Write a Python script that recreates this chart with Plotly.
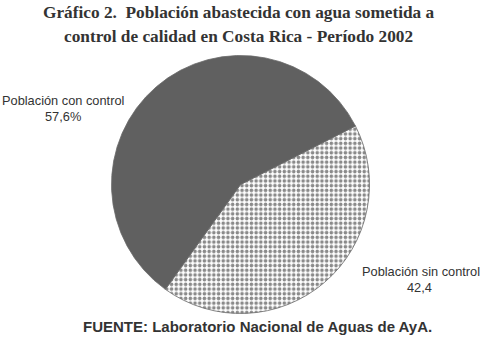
import plotly.graph_objects as go

categories = ["Población sin control", "Población con control"]
values = [42.4, 57.6]
value_labels = ["42,4", "57,6%"]

W, H = 483, 343
cx, cy, r = 240.5, 184.5, 129

fig = go.Figure(go.Pie(
    labels=categories,
    values=values,
    sort=False,
    direction="clockwise",
    rotation=63,
    textinfo="none",
    hoverinfo="label+value",
    marker=dict(
        colors=["white", "#606060"],
        line=dict(color="#6a6a6a", width=0.8),
        pattern=dict(shape=[".", ""], fgcolor="#8a8a8a", bgcolor="white", size=4.7, solidity=0.45),
    ),
    domain=dict(x=[(cx - r) / W, (cx + r) / W], y=[(H - cy - r) / H, (H - cy + r) / H]),
    showlegend=False,
))

ann = []
ann.append(dict(x=63.5, y=H - 101, text=categories[1]))
ann.append(dict(x=63.5, y=H - 117, text=value_labels[1]))
ann.append(dict(x=421, y=H - 271, text=categories[0]))
ann.append(dict(x=419, y=H - 287, text=value_labels[0]))
for a in ann:
    a.update(xref="paper", yref="paper", showarrow=False, xanchor="center", yanchor="middle")
    a["x"] = a["x"] / W
    a["y"] = a["y"] / H
    a["font"] = dict(family="Liberation Sans, Arial, sans-serif", size=12.8, color="#333333")

ann.append(dict(x=238.5 / W, y=(H - 13) / H, xref="paper", yref="paper", showarrow=False,
                xanchor="center", yanchor="middle",
                text="<b>Gráfico 2.  Población abastecida con agua sometida a</b>",
                font=dict(family="Liberation Serif, Times New Roman, serif", size=17.3, color="#333333")))
ann.append(dict(x=238.5 / W, y=(H - 36) / H, xref="paper", yref="paper", showarrow=False,
                xanchor="center", yanchor="middle",
                text="<b>control de calidad en Costa Rica - Período 2002</b>",
                font=dict(family="Liberation Serif, Times New Roman, serif", size=17.3, color="#333333")))
ann.append(dict(x=257.5 / W, y=(H - 326) / H, xref="paper", yref="paper", showarrow=False,
                xanchor="center", yanchor="middle",
                text="<b>FUENTE: Laboratorio Nacional de Aguas de AyA.</b>",
                font=dict(family="Liberation Sans, Arial, sans-serif", size=15, color="#333333")))

fig.update_layout(
    width=W, height=H,
    margin=dict(l=0, r=0, t=0, b=0),
    paper_bgcolor="white", plot_bgcolor="white",
    annotations=ann,
)

fig.write_html("out.html", config={"displayModeBar": False},
               post_script="document.body.style.margin='0';document.body.style.overflow='hidden';")
